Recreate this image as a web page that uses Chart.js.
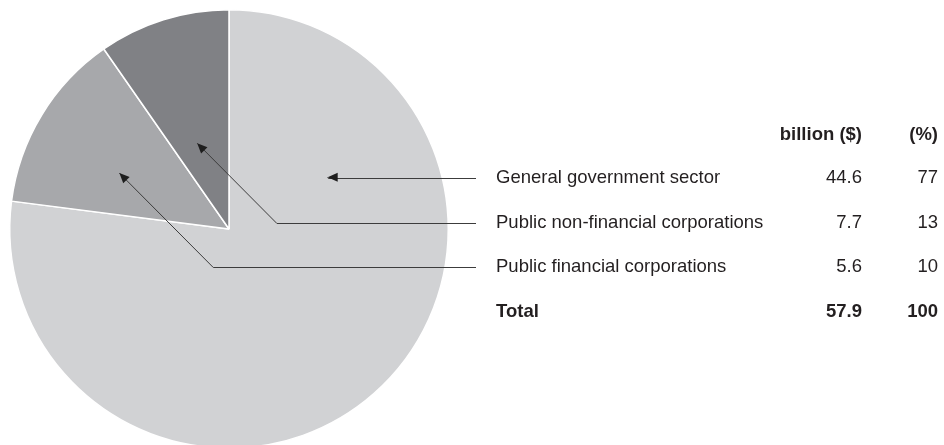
<!DOCTYPE html>
<html lang="en">
<head>
    <meta charset="UTF-8">
    <title>Public sector by sector</title>
    <script src="https://cdn.jsdelivr.net/npm/chart.js"></script>
    <style>
        html, body { margin: 0; padding: 0; background: #fff; overflow: hidden; }
        #wrap { width: 944px; height: 460px; }
    </style>
</head>
<body>
    <div id="wrap">
        <canvas id="sectorChart" width="944" height="460"></canvas>
    </div>
    <script>
        // sector values
        const sectors = ['General government sector', 'Public non-financial corporations', 'Public financial corporations'];
        const billions = [44.6, 7.7, 5.6];
        const percents = [77, 13, 10];
        const totalLabel = 'Total';
        const totalBillion = 57.9;
        const totalPercent = 100;
        const columnHeads = ['billion ($)', '(%)'];

        const sliceColors = ['#d1d2d4', '#a7a8ab', '#808185'];

        // where each row's leader ends, as a fraction of the pie radius from its centre
        const leaderTips = [[0.45, -0.236], [-0.145, -0.391], [-0.5, -0.255]];

        const textColor = '#231f20';
        const lineColor = '#3c3c3c';
        const font = '18.5px "Liberation Sans", Arial, sans-serif';
        const boldFont = 'bold 18.5px "Liberation Sans", Arial, sans-serif';

        const tableX = 496;      // label column
        const billionX = 862;    // right edge of billion column
        const percentX = 938;    // right edge of % column
        const headY = 135;
        const rowY = [178, 223, 267];
        const totalY = 312;
        const leaderEnd = 476;

        function arrowHead(ctx, x, y, angle) {
            ctx.save();
            ctx.translate(x, y);
            ctx.rotate(angle);
            ctx.beginPath();
            ctx.moveTo(0, 0);
            ctx.lineTo(-10, -4.5);
            ctx.lineTo(-10, 4.5);
            ctx.closePath();
            ctx.fill();
            ctx.restore();
        }

        const tablePlugin = {
            id: 'sectorTable',
            afterDraw(chart) {
                const ctx = chart.ctx;
                const arc = chart.getDatasetMeta(0).data[0];
                const cx = arc.x, cy = arc.y, r = arc.outerRadius;

                ctx.save();
                ctx.fillStyle = textColor;
                ctx.textBaseline = 'middle';

                ctx.font = boldFont;
                ctx.textAlign = 'right';
                ctx.fillText(columnHeads[0], billionX, headY);
                ctx.fillText(columnHeads[1], percentX, headY);

                ctx.font = font;
                sectors.forEach((name, i) => {
                    ctx.textAlign = 'left';
                    ctx.fillText(name, tableX, rowY[i]);
                    ctx.textAlign = 'right';
                    ctx.fillText(billions[i].toFixed(1), billionX, rowY[i]);
                    ctx.fillText(String(percents[i]), percentX, rowY[i]);
                });

                ctx.font = boldFont;
                ctx.textAlign = 'left';
                ctx.fillText(totalLabel, tableX, totalY);
                ctx.textAlign = 'right';
                ctx.fillText(totalBillion.toFixed(1), billionX, totalY);
                ctx.fillText(String(totalPercent), percentX, totalY);

                // leader lines: horizontal from the row, then 45 degrees into the slice
                ctx.strokeStyle = lineColor;
                ctx.fillStyle = '#1e1e1e';
                ctx.lineWidth = 1;
                leaderTips.forEach((t, i) => {
                    const tx = cx + t[0] * r;
                    const ty = cy + t[1] * r;
                    const y = rowY[i];
                    const drop = y - ty;
                    const ex = tx + drop;
                    ctx.beginPath();
                    ctx.moveTo(leaderEnd, y + 0.5);
                    ctx.lineTo(ex, y + 0.5);
                    ctx.lineTo(tx, ty);
                    ctx.stroke();
                    const ang = drop > 1 ? Math.atan2(ty - y, tx - ex) : Math.PI;
                    arrowHead(ctx, tx, ty, ang);
                });
                ctx.restore();
            }
        };

        new Chart(document.getElementById('sectorChart'), {
            type: 'pie',
            data: {
                labels: sectors,
                datasets: [{
                    data: billions,
                    backgroundColor: sliceColors,
                    borderColor: '#ffffff',
                    borderWidth: 1.5
                }]
            },
            options: {
                responsive: false,
                animation: false,
                layout: { padding: { left: 9, top: 9, right: 495, bottom: 11 } },
                plugins: {
                    legend: { display: false },
                    tooltip: { enabled: false }
                }
            },
            plugins: [tablePlugin]
        });
    </script>
</body>
</html>
